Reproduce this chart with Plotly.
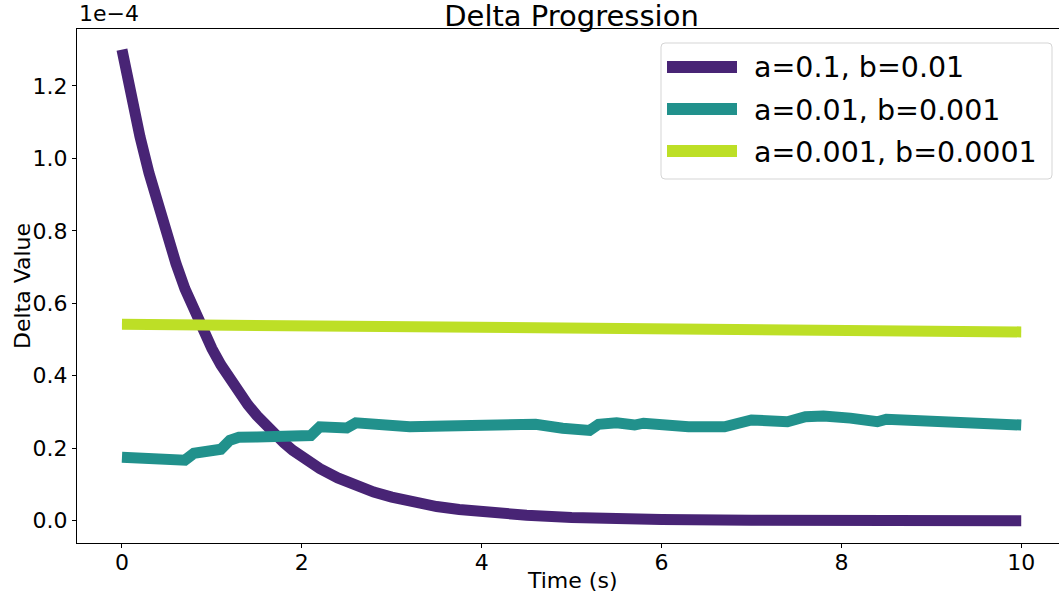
import plotly.graph_objects as go

# Delta values are stored in units of 1e-4 (the axis carries the 1e-4 multiplier)
purple_t = [0, 0.1, 0.2, 0.3, 0.4, 0.5, 0.6, 0.7, 0.8, 0.9, 1.0, 1.1, 1.2, 1.3, 1.4,
            1.5, 1.6, 1.7, 1.8, 1.9, 2.0, 2.2, 2.4, 2.6, 2.8, 3.0, 3.25, 3.5, 3.75,
            4.0, 4.5, 5.0, 5.5, 6.0, 7.0, 8.0, 9.0, 10.0]
purple_v = [1.30, 1.17, 1.06, 0.96, 0.87, 0.79, 0.71, 0.64, 0.58, 0.525, 0.475, 0.43,
            0.39, 0.355, 0.32, 0.29, 0.262, 0.237, 0.215, 0.194, 0.176, 0.144, 0.118,
            0.096, 0.079, 0.065, 0.050, 0.039, 0.031, 0.024, 0.015, 0.009, 0.005,
            0.003, 0.0012, 0.0005, 0.0002, 0.0001]

teal_t = [0, 0.7, 0.8, 1.1, 1.2, 1.3, 1.5, 1.9, 2.1, 2.2, 2.5, 2.6, 2.9, 3.2, 3.6, 4.0,
          4.1, 4.4, 4.6, 4.9, 5.2, 5.3, 5.5, 5.7, 5.8, 6.3, 6.5, 6.7, 7.0, 7.4, 7.6, 7.8,
          8.1, 8.4, 8.5, 8.9, 9.1, 9.5, 9.6, 9.9, 10.0]
teal_v = [0.175, 0.167, 0.186, 0.197, 0.222, 0.230, 0.231, 0.236, 0.235, 0.259, 0.256,
          0.270, 0.261, 0.259, 0.261, 0.261, 0.268, 0.262, 0.266, 0.255, 0.249, 0.266,
          0.270, 0.264, 0.269, 0.259, 0.262, 0.259, 0.278, 0.273, 0.287, 0.289, 0.283,
          0.273, 0.280, 0.275, 0.275, 0.269, 0.272, 0.261, 0.264]

yellow_t = [0, 1, 2, 3, 4, 5, 6, 7, 7.5, 8, 8.5, 9, 10]
yellow_v = [0.542, 0.540, 0.537, 0.534, 0.531, 0.529, 0.526, 0.524, 0.526, 0.526,
            0.525, 0.524, 0.521]

series_names = ["a=0.1, b=0.01", "a=0.01, b=0.001", "a=0.001, b=0.0001"]
series_colors = ["#482475", "#21918c", "#bddf26"]
x_ticks = [0, 2, 4, 6, 8, 10]
y_ticks = [0.0, 0.2, 0.4, 0.6, 0.8, 1.0, 1.2]

FONT = "DejaVu Sans"
BLACK = "black"

fig = go.Figure()
for t, v, name, col in zip([purple_t, teal_t, yellow_t],
                           [purple_v, teal_v, yellow_v],
                           series_names, series_colors):
    fig.add_trace(go.Scatter(x=t, y=v, mode="lines", name=name,
                             line=dict(color=col, width=11),
                             showlegend=False))

# Plot-area pixel frame; the right spine falls just outside the canvas
PL, PR, PT, PB = 77, 1059, 29, 543
def px(x):
    return (x - PL) / (PR - PL)
def py(y):
    return (PB - y) / (PB - PT)

# Legend panel: rounded box, line handles and labels
L, R, T, B = 661, 1052, 43, 179
rad = 4
w, h = R - L, B - T
box_path = (f"M {rad},0 L {w-rad},0 Q {w},0 {w},{-rad} L {w},{-h+rad} "
            f"Q {w},{-h} {w-rad},{-h} L {rad},{-h} Q 0,{-h} 0,{-h+rad} "
            f"L 0,{-rad} Q 0,0 {rad},0 Z")
fig.add_shape(type="path", xref="paper", yref="paper",
              xsizemode="pixel", ysizemode="pixel",
              xanchor=px(L), yanchor=py(T), path=box_path,
              line=dict(color="#d5d5d5", width=1),
              fillcolor="rgba(255,255,255,0.85)", layer="above")

row_y = [67, 109, 151]
for name, col, yy in zip(series_names, series_colors, row_y):
    fig.add_shape(type="line", xref="paper", yref="paper",
                  x0=px(667), x1=px(737), y0=py(yy), y1=py(yy),
                  line=dict(color=col, width=12), layer="above")
    fig.add_annotation(xref="paper", yref="paper", x=px(752), y=py(yy + 1),
                       text=name, showarrow=False, xanchor="left", yanchor="middle",
                       font=dict(family=FONT, size=28.5, color=BLACK))

# Exponent marker above the y axis
fig.add_annotation(xref="paper", yref="paper", x=0, y=1.0, yshift=1,
                   text="1e\u22124", showarrow=False, xanchor="left", yanchor="bottom",
                   font=dict(family=FONT, size=22, color=BLACK))

# Axis titles
fig.add_annotation(xref="paper", yref="paper", x=px(571.5), y=py(580),
                   text="Time (s)", showarrow=False, xanchor="center", yanchor="middle",
                   font=dict(family=FONT, size=22, color=BLACK))
fig.add_annotation(xref="paper", yref="paper", x=px(22), y=py(286),
                   text="Delta Value", showarrow=False, textangle=-90,
                   xanchor="center", yanchor="middle",
                   font=dict(family=FONT, size=22, color=BLACK))

fig.update_layout(
    width=1059, height=596,
    margin=dict(l=PL, r=1059 - PR, t=PT, b=596 - PB),
    paper_bgcolor="white", plot_bgcolor="white",
    font=dict(family=FONT, size=22, color=BLACK),
    title=dict(text="Delta Progression", xref="paper", x=px(571.5), xanchor="center",
               yref="container", y=1 - 16 / 596, yanchor="middle",
               font=dict(family=FONT, size=29, color=BLACK)),
    xaxis=dict(range=[-0.5, 10.42], tickvals=x_ticks, ticktext=[str(v) for v in x_ticks],
               showgrid=False, zeroline=False, showline=True, linecolor=BLACK,
               linewidth=1, mirror=True, ticks="outside", ticklen=4, tickcolor=BLACK,
               tickfont=dict(family=FONT, size=22, color=BLACK),
               ticklabelstandoff=-4, automargin=False),
    yaxis=dict(range=[-0.0616, 1.357], tickvals=y_ticks,
               ticktext=[f"{v:.1f}" for v in y_ticks],
               showgrid=False, zeroline=False, showline=True, linecolor=BLACK,
               linewidth=1, mirror=False, ticks="outside", ticklen=4, tickcolor=BLACK,
               tickfont=dict(family=FONT, size=22, color=BLACK),
               automargin=False),
)

fig.write_html("out.html")
